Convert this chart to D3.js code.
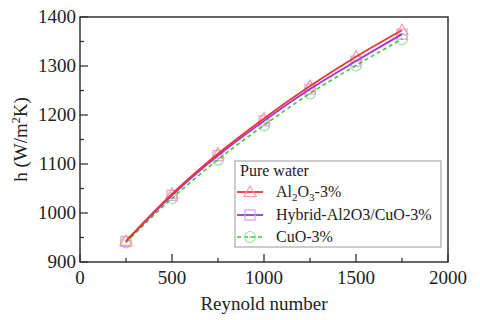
<!DOCTYPE html>
<html>
<head>
<meta charset="utf-8">
<script src="https://cdn.jsdelivr.net/npm/d3@7"></script>
<style>
  body { margin: 0; background: white; }
</style>
</head>
<body>
<div id="chart"></div>
<script>
var width = 480, height = 320;

// data
var reynolds = [250, 500, 750, 1000, 1250, 1500, 1750];
var al2o3 = [943, 1039, 1121, 1193, 1259, 1319, 1373];
var hybrid = [942, 1036, 1117, 1188, 1253, 1310, 1365];
var cuo = [940, 1030, 1109, 1179, 1244, 1301, 1355];
var xTicks = [0, 500, 1000, 1500, 2000];
var yTicks = [900, 1000, 1100, 1200, 1300, 1400];

var series = [
  { name: "Al2O3", values: al2o3, line: "#f03535", mark: "#ff9aa0", shape: "triangle", dash: null },
  { name: "Hybrid", values: hybrid, line: "#a030e0", mark: "#d8a0ee", shape: "square", dash: null },
  { name: "CuO", values: cuo, line: "#3cc83c", mark: "#98e298", shape: "circle", dash: "4,3" }
];

var margin = { left: 80, right: 32, top: 17, bottom: 58 };
var pw = width - margin.left - margin.right,
    ph = height - margin.top - margin.bottom;

var svg = d3.select("#chart").append("svg")
  .attr("width", width).attr("height", height)
  .attr("font-family", "'Liberation Serif', 'Times New Roman', Times, serif")
  .style("font-family", "'Liberation Serif', 'Times New Roman', Times, serif")
  .attr("fill", "#222");

var x = d3.scaleLinear().domain([0, 2000]).range([margin.left, margin.left + pw]);
var y = d3.scaleLinear().domain([900, 1400]).range([margin.top + ph, margin.top]);

var g = svg.append("g");

// curves
var line = d3.line()
  .x(function(d, i) { return x(reynolds[i]); })
  .y(function(d) { return y(d); })
  .curve(d3.curveMonotoneX);

// markers
function drawMarker(sel, shape, cx, cy, col) {
  if (shape == "triangle") {
    sel.append("path")
      .attr("d", "M" + cx + "," + (cy - 6) + "L" + (cx + 6) + "," + (cy + 4.5) + "L" + (cx - 6) + "," + (cy + 4.5) + "Z")
      .attr("fill", "none").attr("stroke", col).attr("stroke-width", 1.2);
  } else if (shape == "square") {
    sel.append("rect").attr("x", cx - 5).attr("y", cy - 5).attr("width", 10).attr("height", 10)
      .attr("fill", "none").attr("stroke", col).attr("stroke-width", 1.2);
  } else {
    sel.append("circle").attr("cx", cx).attr("cy", cy).attr("r", 5.5)
      .attr("fill", "none").attr("stroke", col).attr("stroke-width", 1.2);
    sel.append("circle").attr("cx", cx).attr("cy", cy).attr("r", 1)
      .attr("fill", col);
  }
}

series.slice().reverse().forEach(function(s) {
  s.values.forEach(function(v, i) {
    drawMarker(g, s.shape, x(reynolds[i]), y(v), s.mark);
  });
});

series.slice().reverse().forEach(function(s) {
  g.append("path")
    .attr("d", line(s.values))
    .attr("fill", "none")
    .attr("stroke", s.line)
    .attr("stroke-width", s.dash ? 1.6 : 1.8)
    .attr("stroke-dasharray", s.dash);
});

// frame
svg.append("rect")
  .attr("x", margin.left).attr("y", margin.top)
  .attr("width", pw).attr("height", ph)
  .attr("fill", "none").attr("stroke", "#333").attr("stroke-width", 1.5);

// ticks (inward)
var axisCol = "#333";
d3.range(0, 2001, 250).forEach(function(v) {
  var major = v % 500 == 0;
  svg.append("line")
    .attr("x1", x(v)).attr("x2", x(v))
    .attr("y1", y(900)).attr("y2", y(900) - (major ? 8 : 4))
    .attr("stroke", axisCol).attr("stroke-width", 1.3);
});
d3.range(900, 1401, 50).forEach(function(v) {
  var major = v % 100 == 0;
  svg.append("line")
    .attr("x1", x(0)).attr("x2", x(0) + (major ? 8 : 4))
    .attr("y1", y(v)).attr("y2", y(v))
    .attr("stroke", axisCol).attr("stroke-width", 1.3);
});

svg.selectAll(".xl").data(xTicks).enter().append("text")
  .attr("x", function(d) { return x(d); })
  .attr("y", 284)
  .attr("text-anchor", "middle")
  .attr("font-size", 19)
  .text(function(d) { return d; });

svg.selectAll(".yl").data(yTicks).enter().append("text")
  .attr("x", 76)
  .attr("y", function(d) { return y(d) + 6; })
  .attr("text-anchor", "end")
  .attr("font-size", 19)
  .text(function(d) { return d; });

svg.append("text")
  .attr("x", x(1000)).attr("y", 310)
  .attr("text-anchor", "middle")
  .attr("font-size", 19)
  .text("Reynold number");

var yt = svg.append("text")
  .attr("transform", "translate(27," + y(1150) + ") rotate(-90)")
  .attr("text-anchor", "middle")
  .attr("font-size", 19);
yt.append("tspan").text("h (W/m");
yt.append("tspan").attr("font-size", 12).attr("dy", -7).text("2");
yt.append("tspan").attr("dy", 7).text("K)");

// legend
var lg = svg.append("g");
lg.append("rect")
  .attr("x", 235).attr("y", 161).attr("width", 206).attr("height", 86)
  .attr("fill", "white").attr("stroke", "#999").attr("stroke-width", 1);
lg.append("text").attr("x", 240).attr("y", 176).attr("font-size", 16).text("Pure water");

var rows = [192, 215, 237];
series.forEach(function(s, i) {
  var ly = rows[i];
  lg.append("line")
    .attr("x1", 237).attr("x2", 263).attr("y1", ly).attr("y2", ly)
    .attr("stroke", s.line).attr("stroke-width", s.dash ? 1.6 : 1.8)
    .attr("stroke-dasharray", s.dash);
  drawMarker(lg, s.shape, 250, ly, s.mark);
  var t = lg.append("text").attr("x", 276).attr("y", ly + 5).attr("font-size", 16);
  if (i == 0) {
    t.append("tspan").text("Al");
    t.append("tspan").attr("font-size", 11).attr("dy", 4).text("2");
    t.append("tspan").attr("dy", -4).text("O");
    t.append("tspan").attr("font-size", 11).attr("dy", 4).text("3");
    t.append("tspan").attr("dy", -4).text("-3%");
  } else if (i == 1) {
    t.text("Hybrid-Al2O3/CuO-3%");
  } else {
    t.text("CuO-3%");
  }
});
</script>
</body>
</html>
